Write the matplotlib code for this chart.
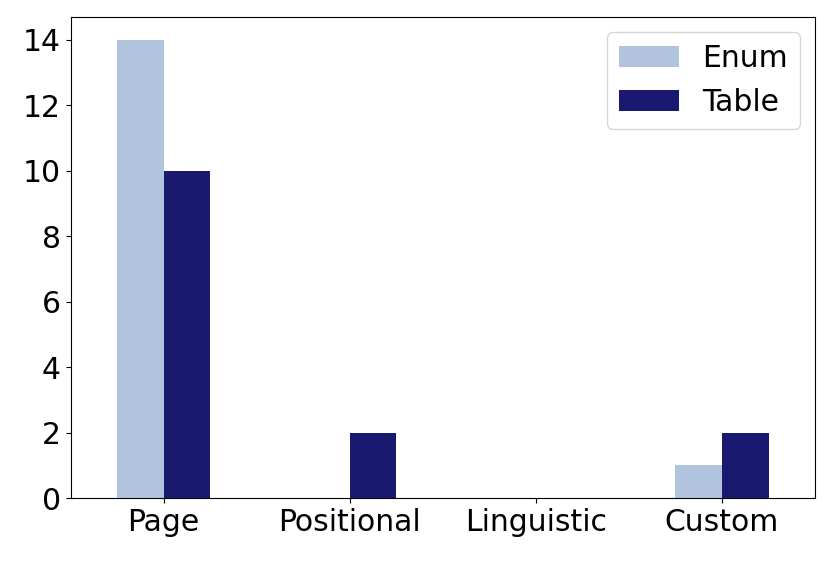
import numpy as np
import matplotlib.pyplot as plt

categories = ['Page', 'Positional', 'Linguistic', 'Custom']
enum_vals = [14, 0, 0, 1]
table_vals = [10, 2, 0, 2]

plt.rcParams['font.size'] = 21.5
fig, ax = plt.subplots(figsize=(8.3, 5.61), dpi=100)
x = np.arange(len(categories))
w = 0.25
ax.bar(x - w/2, enum_vals, w, color='lightsteelblue', label='Enum')
ax.bar(x + w/2, table_vals, w, color='midnightblue', label='Table')
ax.set_xticks(x)
ax.set_xticklabels(categories)
ax.set_xlim(-0.5, 3.5)
ax.set_yticks(range(0, 15, 2))
ax.legend(loc='upper right')
plt.subplots_adjust(left=0.085, right=0.982, top=0.97, bottom=0.112)
plt.savefig('out.png')
